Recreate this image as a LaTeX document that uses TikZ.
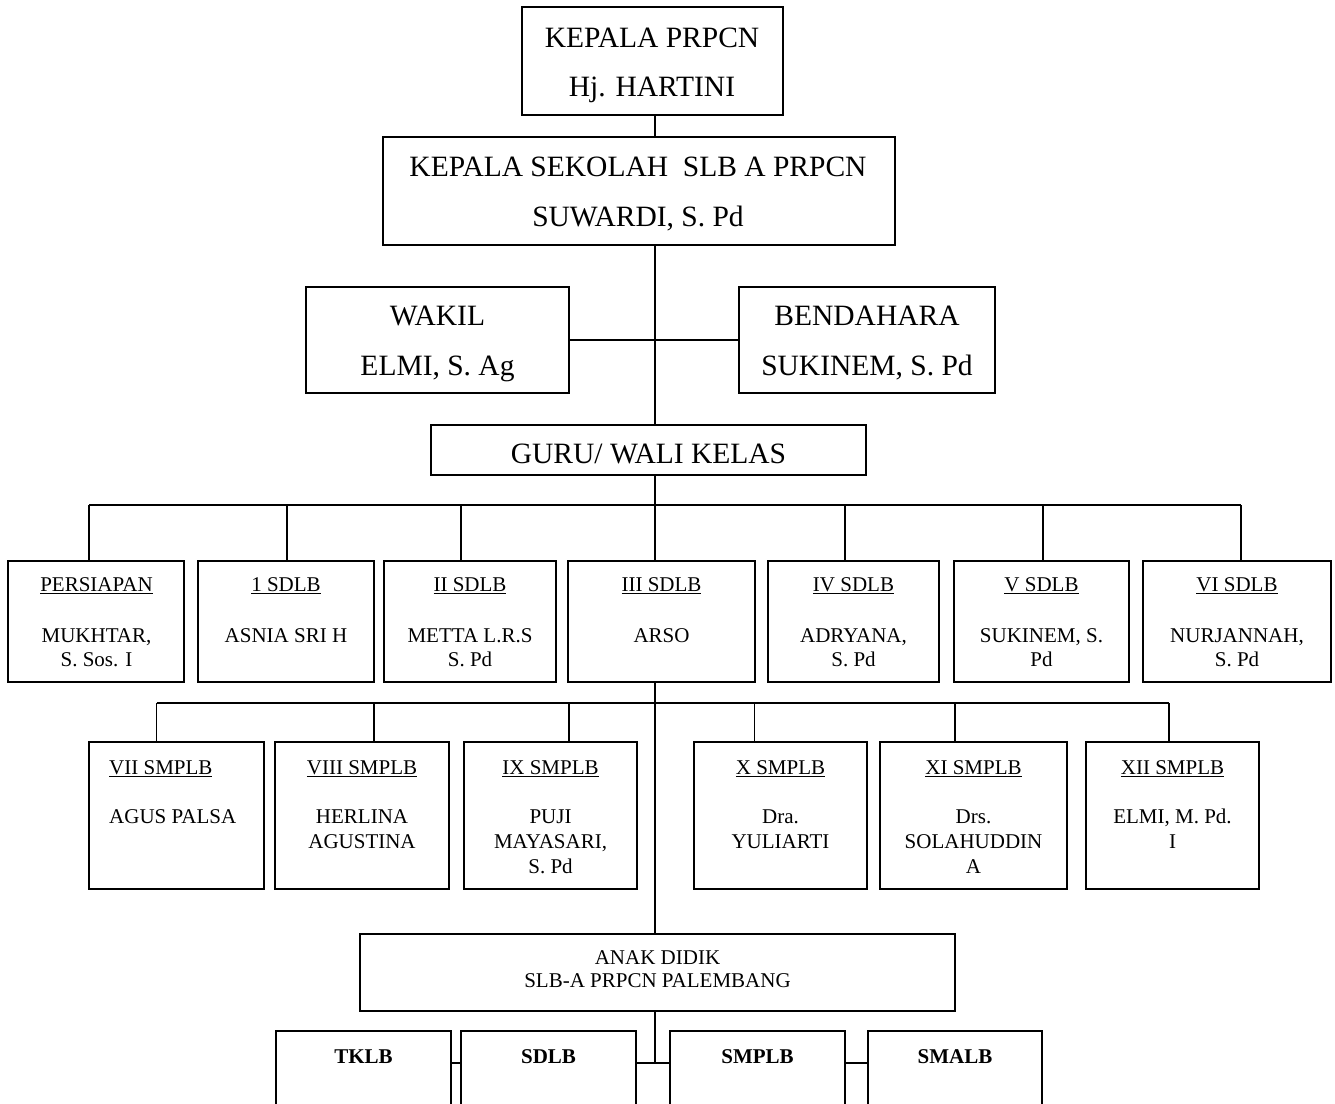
\documentclass[tikz,border=0pt]{standalone}
\usepackage{fontspec}
\setmainfont{Liberation Serif}
\newcommand\myul[1]{\setbox0\hbox{#1}\leavevmode\rlap{\vrule height -2.2pt depth 3.4pt width \wd0}\box0}
\newcommand\mkbox[5]{\node[box, minimum width={(#4-#2)*1pt}, minimum height={(#5-#3)*1pt}] (#1) at ({(#2+#4)/2},{(#3+#5)/2}) {};}
\tikzset{
  box/.style={draw, line width=1.7pt, inner sep=0pt, outer sep=0pt},
  conn/.style={line width=1.7pt},
  big/.style={font=\fontsize{29.5}{30}\selectfont, anchor=base, inner sep=0pt},
  small/.style={font=\fontsize{21}{22}\selectfont, anchor=base, inner sep=0pt},
  smallb/.style={font=\fontsize{21}{22}\selectfont\bfseries, anchor=base, inner sep=0pt},
}
\begin{document}
\begin{tikzpicture}[x=1pt,y=-1pt]
\clip (0,0) rectangle (1335,1103);
\fill[white] (0,0) rectangle (1335,1103);

% ---- boxes ----
\mkbox{kepala}{522}{7}{783}{115}
\mkbox{sekolah}{383}{137}{895}{245}
\mkbox{wakil}{306}{287}{569}{393}
\mkbox{bend}{739}{287}{995}{393}
\mkbox{guru}{431}{425}{866}{475}

\mkbox{pers}{8}{561}{184}{682}
\mkbox{sdi}{198}{561}{374}{682}
\mkbox{sdii}{384}{561}{556}{682}
\mkbox{sdiii}{568}{561}{755}{682}
\mkbox{sdiv}{768}{561}{939}{682}
\mkbox{sdv}{954}{561}{1129}{682}
\mkbox{sdvi}{1143}{561}{1331}{682}

\mkbox{smvii}{89}{742}{264}{889}
\mkbox{smviii}{275}{742}{449}{889}
\mkbox{smix}{464}{742}{637}{889}
\mkbox{smx}{694}{742}{867}{889}
\mkbox{smxi}{880}{742}{1067}{889}
\mkbox{smxii}{1086}{742}{1259}{889}

\mkbox{anak}{360}{934}{955}{1011}

\mkbox{tklb}{276}{1031}{451}{1140}
\mkbox{sdlb}{461}{1031}{636}{1140}
\mkbox{smplb}{670}{1031}{845}{1140}
\mkbox{smalb}{868}{1031}{1042}{1140}

% ---- texts ----
\node[big] (t1) at (652,47) {KEPALA PRPCN};
\node[big] (t2) at (652,96) {Hj. HARTINI};
\node[big] (t3) at (638,176) {KEPALA SEKOLAH\ \ SLB A PRPCN};
\node[big] (t4) at (638,226) {SUWARDI, S. Pd};
\node[big] (t5) at (437.5,325) {WAKIL};
\node[big] (t6) at (437.5,375) {ELMI, S. Ag};
\node[big] (t7) at (867,325) {BENDAHARA};
\node[big] (t8) at (867,375) {SUKINEM, S. Pd};
\node[big] (t9) at (648.5,463) {GURU/ WALI KELAS};

\node[small] (r1a) at (96.5,591) {\myul{PERSIAPAN}};
\node[small] (r1b) at (96.5,642) {MUKHTAR,};
\node[small] (r1c) at (96.5,666) {S. Sos. I};
\node[small] (r2a) at (286,591) {\myul{1 SDLB}};
\node[small] (r2b) at (286,642) {ASNIA SRI H};
\node[small] (r3a) at (470,591) {\myul{II SDLB}};
\node[small] (r3b) at (470,642) {METTA L.R.S};
\node[small] (r3c) at (470,666) {S. Pd};
\node[small] (r4a) at (661.5,591) {\myul{III SDLB}};
\node[small] (r4b) at (661.5,642) {ARSO};
\node[small] (r5a) at (853.5,591) {\myul{IV SDLB}};
\node[small] (r5b) at (853.5,642) {ADRYANA,};
\node[small] (r5c) at (853.5,666) {S. Pd};
\node[small] (r6a) at (1041.5,591) {\myul{V SDLB}};
\node[small] (r6b) at (1041.5,642) {SUKINEM, S.};
\node[small] (r6c) at (1041.5,666) {Pd};
\node[small] (r7a) at (1237,591) {\myul{VI SDLB}};
\node[small] (r7b) at (1237,642) {NURJANNAH,};
\node[small] (r7c) at (1237,666) {S. Pd};

\node[small,anchor=base west] (s1a) at (109,774) {\myul{VII SMPLB}};
\node[small,anchor=base west] (s1b) at (109,823) {AGUS PALSA};
\node[small] (s2a) at (362,774) {\myul{VIII SMPLB}};
\node[small] (s2b) at (362,823) {HERLINA};
\node[small] (s2c) at (362,848) {AGUSTINA};
\node[small] (s3a) at (550.5,774) {\myul{IX SMPLB}};
\node[small] (s3b) at (550.5,823) {PUJI};
\node[small] (s3c) at (550.5,848) {MAYASARI,};
\node[small] (s3d) at (550.5,873) {S. Pd};
\node[small] (s4a) at (780.5,774) {\myul{X SMPLB}};
\node[small] (s4b) at (780.5,823) {Dra.};
\node[small] (s4c) at (780.5,848) {YULIARTI};
\node[small] (s5a) at (973.5,774) {\myul{XI SMPLB}};
\node[small] (s5b) at (973.5,823) {Drs.};
\node[small] (s5c) at (973.5,848) {SOLAHUDDIN};
\node[small] (s5d) at (973.5,873) {A};
\node[small] (s6a) at (1172.5,774) {\myul{XII SMPLB}};
\node[small] (s6b) at (1172.5,823) {ELMI, M. Pd.};
\node[small] (s6c) at (1172.5,848) {I};

\node[small] (a1) at (657.5,964) {ANAK DIDIK};
\node[small] (a2) at (657.5,987) {SLB-A PRPCN PALEMBANG};

\node[smallb] (b1) at (363.5,1063) {TKLB};
\node[smallb] (b2) at (548.5,1063) {SDLB};
\node[smallb] (b3) at (757.5,1063) {SMPLB};
\node[smallb] (b4) at (955,1063) {SMALB};

% ---- connector coordinates ----
\coordinate (c0) at (655,0);
\coordinate (bus1) at (655,505);
\coordinate (bus2) at (655,703);
\coordinate (bcon) at (655,1063);
\coordinate (d1) at (89,505);
\coordinate (d2) at (287,505);
\coordinate (d3) at (461,505);
\coordinate (d5) at (845,505);
\coordinate (d6) at (1043,505);
\coordinate (d7) at (1241,505);
\coordinate (e1) at (156.5,703);
\coordinate (e2) at (374,703);
\coordinate (e3) at (569,703);
\coordinate (e4) at (754.5,703);
\coordinate (e5) at (955,703);
\coordinate (e6) at (1169,703);

% ---- connectors ----
\draw[conn] (c0 |- kepala.south) -- (c0 |- sekolah.north);
\draw[conn] (c0 |- sekolah.south) -- (c0 |- guru.north);
\draw[conn] (wakil.east) -- (bend.west);
\draw[conn] (c0 |- guru.south) -- (c0 |- sdiii.north);
\draw[conn] (d1) -- (d7);
\draw[conn] (d1) -- (d1 |- pers.north);
\draw[conn] (d2) -- (d2 |- sdi.north);
\draw[conn] (d3) -- (d3 |- sdii.north);
\draw[conn] (d5) -- (d5 |- sdiv.north);
\draw[conn] (d6) -- (d6 |- sdv.north);
\draw[conn] (d7) -- (d7 |- sdvi.north);

\draw[conn] (c0 |- sdiii.south) -- (c0 |- anak.north);
\draw[conn] (e1) -- (e6);
\draw[conn] (e1) -- (e1 |- smvii.north);
\draw[conn] (e2) -- (e2 |- smviii.north);
\draw[conn] (e3) -- (e3 |- smix.north);
\draw[conn] (e4) -- (e4 |- smx.north);
\draw[conn] (e5) -- (e5 |- smxi.north);
\draw[conn] (e6) -- (e6 |- smxii.north);

\draw[conn] (c0 |- anak.south) -- (bcon);
\draw[conn] (tklb.east |- bcon) -- (sdlb.west |- bcon);
\draw[conn] (sdlb.east |- bcon) -- (smplb.west |- bcon);
\draw[conn] (smplb.east |- bcon) -- (smalb.west |- bcon);
\end{tikzpicture}
\end{document}
